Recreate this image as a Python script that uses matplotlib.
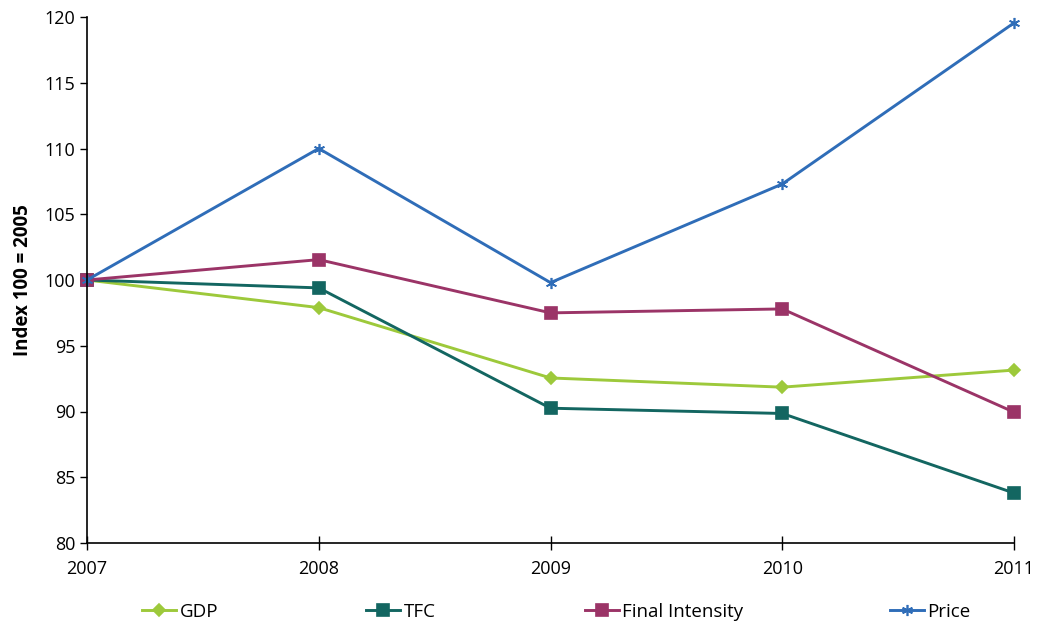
import matplotlib.pyplot as plt
import numpy as np

plt.rcParams['font.family'] = ['Open Sans', 'DejaVu Sans']

years = [2007, 2008, 2009, 2010, 2011]
gdp = [100.0, 97.9, 92.55, 91.85, 93.15]
tfc = [100.0, 99.4, 90.25, 89.85, 83.8]
final_intensity = [100.0, 101.55, 97.5, 97.8, 89.95]
price = [100.0, 110.0, 99.8, 107.3, 119.55]

series = [
    ("GDP", gdp, "#9dc93b", "D", 6),
    ("TFC", tfc, "#136661", "s", 8),
    ("Final Intensity", final_intensity, "#9b3467", "s", 8),
    ("Price", price, "#2f6db8", (6, 2, 0), 8),
]
# left edge (px) of each legend entry along the bottom
legend_x = [142, 366, 585, 890]

W, H = 1037, 625
fig = plt.figure(figsize=(W / 100, H / 100), dpi=100)
ax = fig.add_axes([87 / W, 1 - 543 / H, (1014 - 87) / W, (543 - 17) / H])

handles = []
for name, vals, color, marker, ms in series:
    h, = ax.plot(years, vals, color=color, lw=2.1, marker=marker, ms=ms,
                 mec=color, mfc=color, mew=1.2, label=name, clip_on=False)
    handles.append(h)

ax.set_xlim(2007, 2011)
ax.set_ylim(80, 120)
ax.set_xticks(years)
ax.set_yticks(np.arange(80, 121, 5))
ax.tick_params(axis='both', labelsize=13, direction='out', length=5, width=1, color='black')
ax.tick_params(axis='x', direction='inout', length=10, pad=7)
for side in ['top', 'right']:
    ax.spines[side].set_visible(False)
for side in ['left', 'bottom']:
    ax.spines[side].set_linewidth(1.2)

ax.set_ylabel("Index 100 = 2005", fontsize=13.5, fontweight='bold', labelpad=8)

# one legend per entry so the uneven spacing can be kept
for h, x in zip(handles, legend_x):
    fig.legend(handles=[h], loc='center left', bbox_to_anchor=(x / W, 1 - 612 / H),
               frameon=False, fontsize=13.5, handlelength=1.8, handletextpad=0.2,
               borderpad=0, borderaxespad=0)

fig.savefig("out.png", dpi=100)
